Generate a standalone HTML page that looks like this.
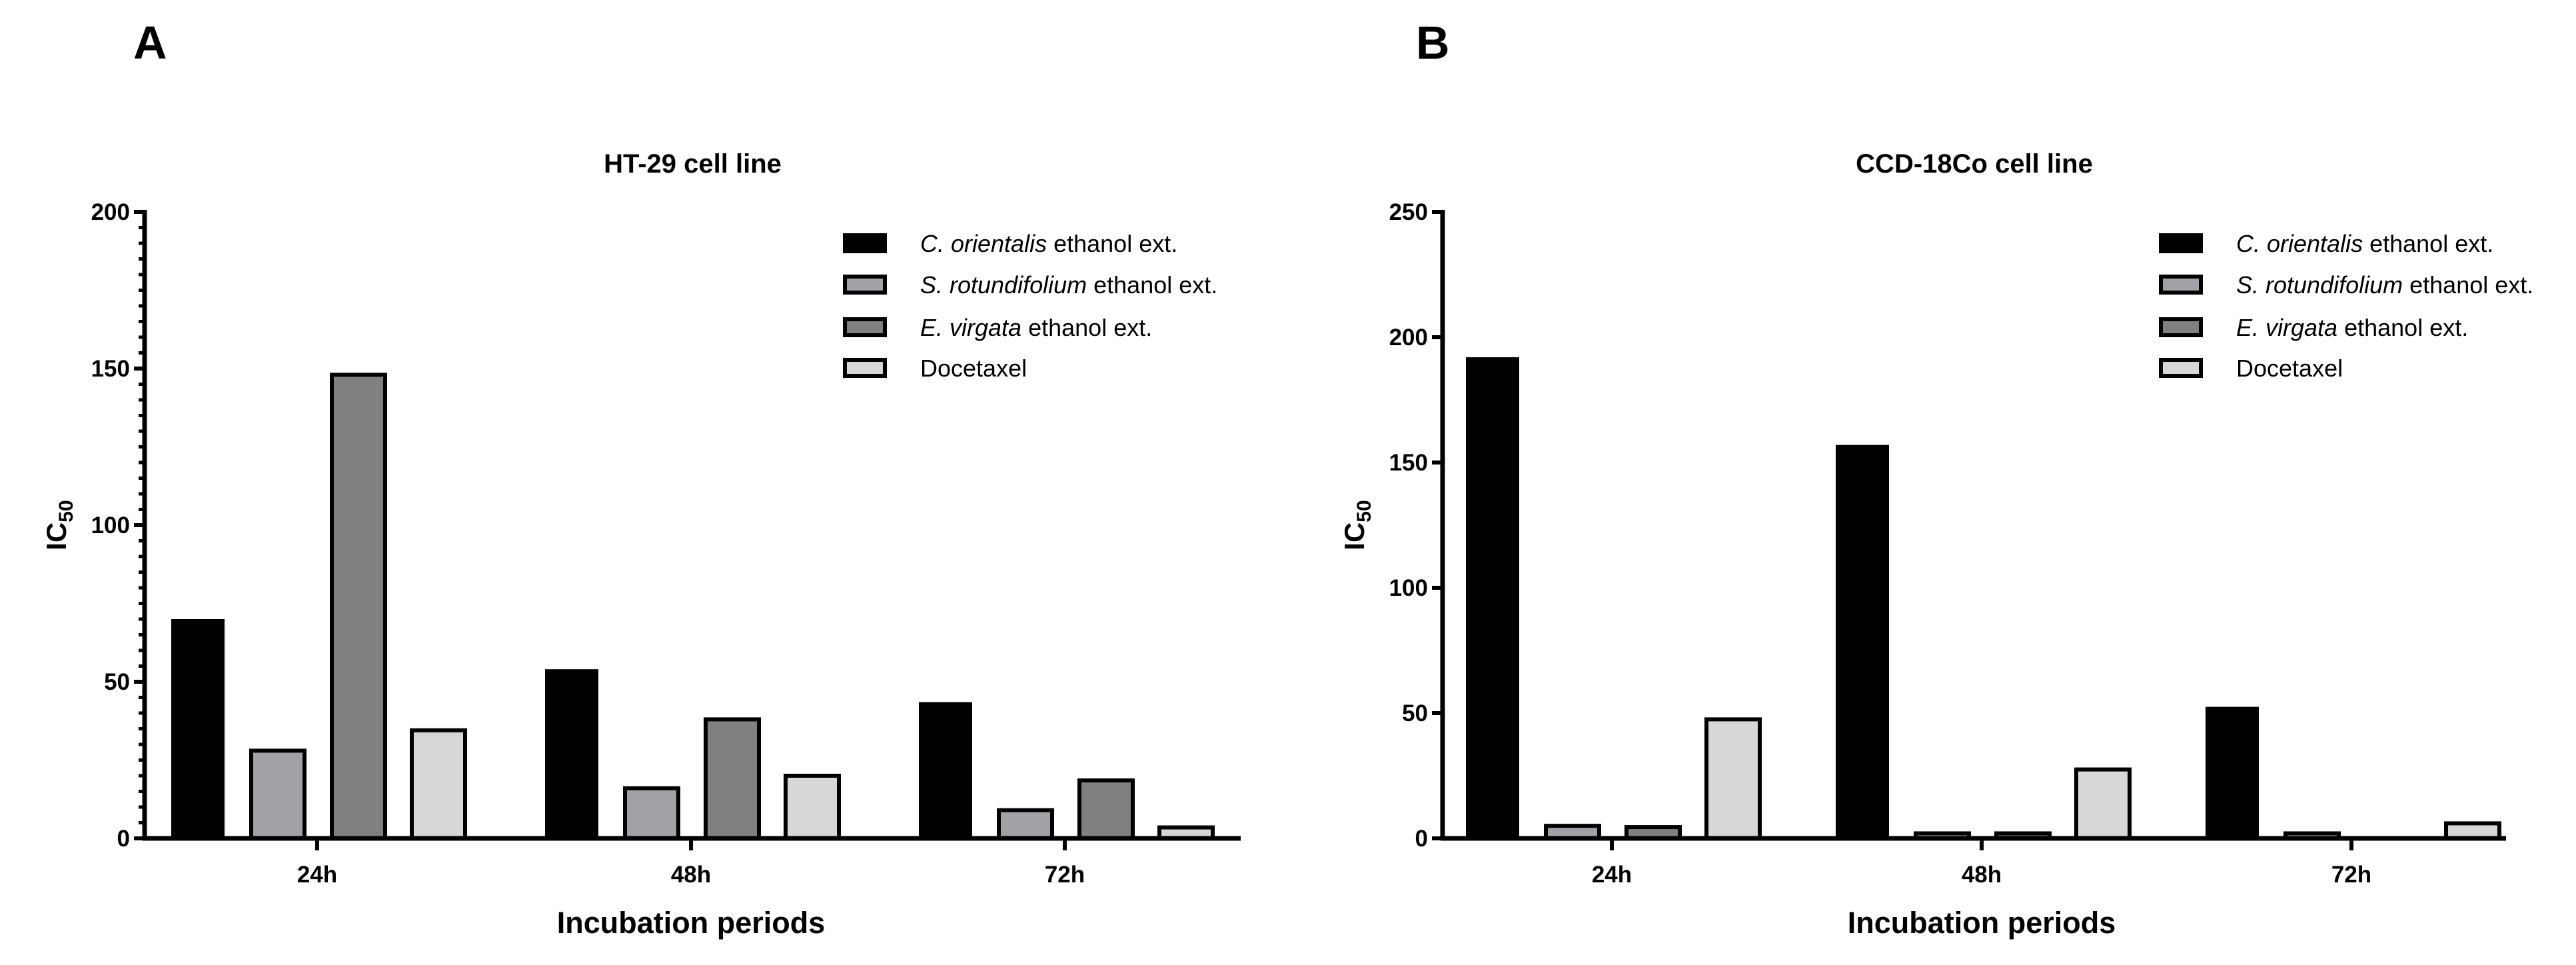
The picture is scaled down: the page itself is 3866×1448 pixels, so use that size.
<!DOCTYPE html>
<html><head><meta charset="utf-8"><style>
html,body{margin:0;padding:0;background:#fff;}
svg{display:block;font-family:"Liberation Sans",sans-serif;}
</style></head><body>
<svg id="chart" width="3866" height="1448" viewBox="0 0 3866 1448" xmlns="http://www.w3.org/2000/svg"></svg>
<script>
const categories = ["24h","48h","72h"];
const seriesNames = ["C. orientalis","S. rotundifolium","E. virgata","Docetaxel"];
const panelA_corientalis = [70, 54, 43.5];
const panelA_srotundifolium = [28, 16, 9];
const panelA_evirgata = [148, 38, 18.5];
const panelA_docetaxel = [34.5, 20, 3.5];
const panelB_corientalis = [192, 157, 52.5];
const panelB_srotundifolium = [5, 2, 2];
const panelB_evirgata = [4.5, 2, 0];
const panelB_docetaxel = [47.5, 27.5, 6];
const panelA_ticks = [0, 50, 100, 150, 200];
const panelB_ticks = [0, 50, 100, 150, 200, 250];

const NS = "http://www.w3.org/2000/svg";
const svg = document.getElementById("chart");
const colors = ["#000000","#a1a1a7","#808080","#d7d7d7"];
function mk(tag, attrs, parent){ const e=document.createElementNS(NS,tag); for(const k in attrs) e.setAttribute(k,attrs[k]); (parent||svg).appendChild(e); return e; }

function panel(cfg){
  const g = mk("g",{});
  
  
  const y0=1258, y1=318;
  const yScale = v => y0 - (v/cfg.max)*(y0-y1);
  const xScale = i => cfg.x24 + i*cfg.step;
  const offsets=[-179,-59,62,182];
  const bw=80;
  const L = mk("text",{x:cfg.letterX,y:88,"font-size":70,"font-weight":"bold"},g); L.textContent=cfg.letter;
  
  
  const T = mk("text",{x:(cfg.ax+cfg.axEnd)/2,y:259,"font-size":40,"font-weight":"bold","text-anchor":"middle"},g); T.textContent=cfg.title;
  
  
  const series=[cfg.s0,cfg.s1,cfg.s2,cfg.s3];
  series.forEach((vals,s)=>{
    vals.forEach((v,i)=>{
      const yt=yScale(v);
      const r = mk("rect",{x:xScale(i)+offsets[s]-bw/2,y:yt,width:bw,height:Math.max(0,y0-yt),fill:colors[s],stroke:"#000","stroke-width":s===0?0:6},g);
      
      
    });
  });
  const ya = mk("line",{x1:cfg.ax,y1:y1-3,x2:cfg.ax,y2:y0+3,stroke:"#000","stroke-width":7},g);
  
  
  const xa = mk("line",{x1:cfg.ax-3,y1:y0,x2:cfg.axEnd,y2:y0,stroke:"#000","stroke-width":7},g);
  
  
  if(cfg.minor){
    for(let v=0; v<=cfg.max; v+=5){
      const m = mk("line",{x1:cfg.ax-9,y1:yScale(v),x2:cfg.ax,y2:yScale(v),stroke:"#000","stroke-width":5},g);
      
      
    }
  }
  cfg.ticks.forEach(v=>{
    const t = mk("line",{x1:cfg.ax-16,y1:yScale(v),x2:cfg.ax,y2:yScale(v),stroke:"#000","stroke-width":6},g);
    
    
    const tl = mk("text",{x:cfg.ax-22,y:yScale(v)+12,"font-size":35,"font-weight":"bold","text-anchor":"end"},g); tl.textContent=v;
    
    
  });
  categories.forEach((c,i)=>{
    const t = mk("line",{x1:xScale(i),y1:y0,x2:xScale(i),y2:y0+18,stroke:"#000","stroke-width":6},g);
    
    
    const tl = mk("text",{x:xScale(i),y:y0+66,"font-size":35,"font-weight":"bold","text-anchor":"middle"},g); tl.textContent=c;
    
    
  });
  const xl = mk("text",{x:xScale(1),y:1400,"font-size":45,"font-weight":"bold","text-anchor":"middle"},g); xl.textContent="Incubation periods";
  
  
  const yl = mk("text",{x:0,y:0,"font-size":42,"font-weight":"bold","text-anchor":"middle",transform:`translate(${cfg.ax-118},${(y0+y1)/2}) rotate(-90)`},g);
  yl.innerHTML='IC<tspan font-size="30" dy="10">50</tspan>';
  
  
  const rows=[365,427,491,552];
  const labels=[["C. orientalis"," ethanol ext."],["S. rotundifolium"," ethanol ext."],["E. virgata"," ethanol ext."],["Docetaxel",""]];
  rows.forEach((ry,s)=>{
    const sw = mk("rect",{x:cfg.legX+3,y:ry-12,width:60,height:24,fill:colors[s],stroke:"#000","stroke-width":s===0?0:6},g);
    if(s===0){sw.setAttribute("x",cfg.legX);sw.setAttribute("y",ry-15);sw.setAttribute("width",66);sw.setAttribute("height",30);}
    
    
    const tx = mk("text",{x:cfg.legX+116,y:ry+13,"font-size":36},g);
    if(s<3){ tx.innerHTML='<tspan font-style="italic">'+labels[s][0]+'</tspan>'+labels[s][1]; }
    else tx.textContent=labels[s][0];
    
    
  });
}
panel({name:"panel-a-ht29",letter:"A",letterX:200,title:"HT-29 cell line",ax:217,axEnd:1862,x24:476,step:561,max:200,ticks:panelA_ticks,minor:true,legX:1265,
  s0:panelA_corientalis,s1:panelA_srotundifolium,s2:panelA_evirgata,s3:panelA_docetaxel});
panel({name:"panel-b-ccd18co",letter:"B",letterX:2125,title:"CCD-18Co cell line",ax:2165,axEnd:3761,x24:2419,step:555,max:250,ticks:panelB_ticks,minor:false,legX:3240,
  s0:panelB_corientalis,s1:panelB_srotundifolium,s2:panelB_evirgata,s3:panelB_docetaxel});
</script>
</body></html>
